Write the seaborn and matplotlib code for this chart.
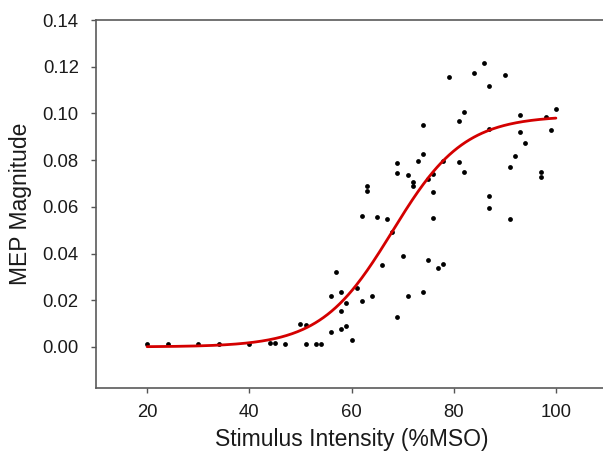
import numpy as np
import pandas as pd
import matplotlib
matplotlib.use("Agg")
import matplotlib.pyplot as plt
import seaborn as sns

intensity = [20, 24, 30, 34, 40, 44, 45, 47, 50, 51, 51, 53, 54, 56, 56, 57, 58, 58, 58,
             59, 59, 60, 61, 62, 62, 63, 63, 64, 65, 66, 67, 68, 69, 70, 71, 72, 72, 74,
             75, 76, 76, 77, 78, 87, 87, 91, 69, 69, 71, 73, 74, 74, 75, 76, 78, 79, 81,
             81, 82, 82, 84, 86, 87, 87, 90, 91, 92, 93, 93, 94, 97, 97, 98, 99, 100]
magnitude = [0.0012, 0.0012, 0.0012, 0.0012, 0.0012, 0.0017, 0.0016, 0.0012, 0.0097, 0.0095,
             0.0014, 0.0014, 0.0014, 0.0063, 0.0218, 0.0322, 0.0237, 0.0153, 0.0078, 0.0090,
             0.0190, 0.0030, 0.0251, 0.0198, 0.0560, 0.0669, 0.0689, 0.0217, 0.0558, 0.0350,
             0.0549, 0.0494, 0.0126, 0.0390, 0.0217, 0.0708, 0.0690, 0.0235, 0.0373, 0.0662,
             0.0554, 0.0340, 0.0357, 0.0647, 0.0594, 0.0549, 0.0786, 0.0743, 0.0737, 0.0796,
             0.0825, 0.0952, 0.0719, 0.0740, 0.0796, 0.1154, 0.0792, 0.0967, 0.0749, 0.1004,
             0.1175, 0.1216, 0.1119, 0.0932, 0.1166, 0.0769, 0.0818, 0.0994, 0.0922, 0.0872,
             0.0749, 0.0729, 0.0983, 0.0930, 0.1019]

# Boltzmann sigmoid fit parameters
fit_max = 0.099
fit_x50 = 68.0
fit_slope = 7.0
fit_range = [20, 100]

x_ticks = [20, 40, 60, 80, 100]
y_ticks = [0.00, 0.02, 0.04, 0.06, 0.08, 0.10, 0.12, 0.14]

sns.set_style("ticks")
plt.rcParams['font.family'] = ['Liberation Sans', 'DejaVu Sans']

fig = plt.figure(figsize=(6.03, 4.65), dpi=100)
ax = fig.add_axes([96 / 603, 1 - 388 / 465, 511 / 603, 368 / 465])

df = pd.DataFrame({"x": intensity, "y": magnitude})
fx = np.linspace(fit_range[0], fit_range[1], 300)
fy = fit_max / (1 + np.exp((fit_x50 - fx) / fit_slope))
fit_df = pd.DataFrame({"x": fx, "y": fy})

sns.scatterplot(data=df, x="x", y="y", ax=ax, color="black", s=12, linewidth=0, zorder=2)
sns.lineplot(data=fit_df, x="x", y="y", ax=ax, color="#d40000", linewidth=2, zorder=3)

ax.set_xlim(10, 110)
ax.set_ylim(-0.0176, 0.14)
ax.set_xticks(x_ticks)
ax.set_yticks(y_ticks)
ax.set_yticklabels([f"{v:.2f}" for v in y_ticks])
ax.tick_params(axis="both", direction="out", length=3.5, width=1, color="#555555",
               labelsize=13.3, labelcolor="#1a1a1a")
ax.tick_params(axis="y", pad=9)
ax.tick_params(axis="x", pad=8)
for sp in ax.spines.values():
    sp.set_color("#5a5a5a")
    sp.set_linewidth(1.2)

ax.set_xlabel("Stimulus Intensity (%MSO)", fontsize=16.5, color="#1a1a1a", labelpad=5)
ax.set_ylabel("MEP Magnitude", fontsize=16.5, color="#1a1a1a")
ax.yaxis.set_label_coords(-0.125, 0.5)

fig.savefig("out.png", dpi=100)
